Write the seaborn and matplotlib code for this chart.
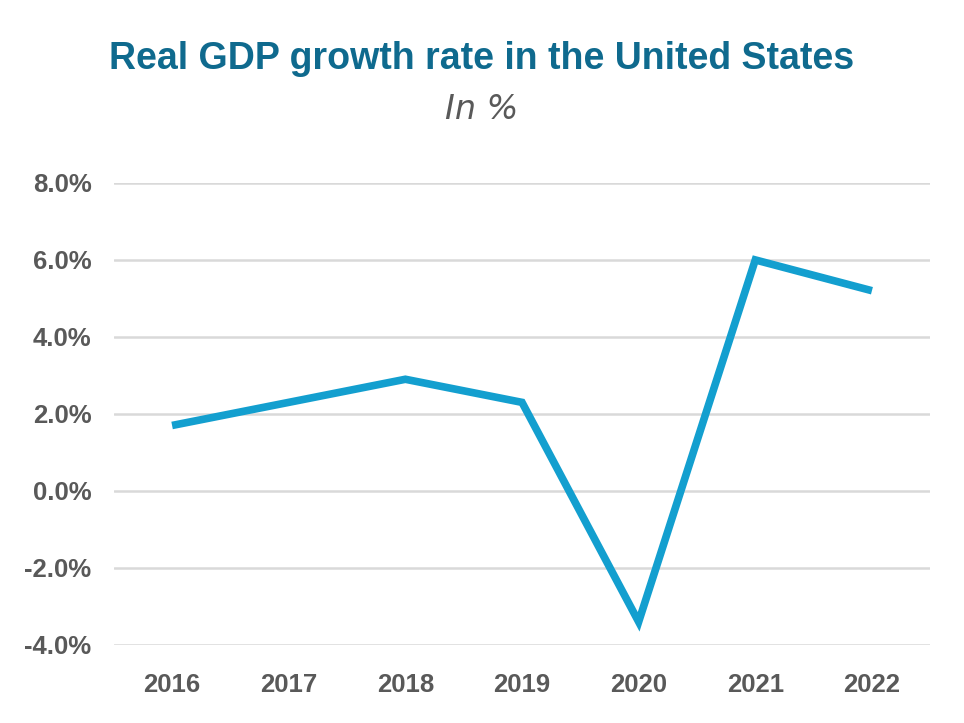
import pandas as pd
import matplotlib.pyplot as plt
import seaborn as sns
from matplotlib.ticker import FuncFormatter

# Données
annees = ["2016", "2017", "2018", "2019", "2020", "2021", "2022"]
croissance = [1.7, 2.3, 2.9, 2.3, -3.4, 6.0, 5.2]

df = pd.DataFrame({"Annee": annees, "Croissance": croissance})

sns.set_style("white")
plt.rcParams['font.family'] = ['Liberation Sans', 'DejaVu Sans']

fig = plt.figure(figsize=(9.64, 7.23), dpi=100)
ax = fig.add_axes([0.118, 0.108, 0.847, 0.639])

sns.lineplot(data=df, x="Annee", y="Croissance", color="#139fcf", linewidth=5.5,
             ax=ax, solid_capstyle="butt", solid_joinstyle="miter")

ax.set_ylim(-4, 8)
ax.set_yticks([-4, -2, 0, 2, 4, 6, 8])
ax.yaxis.set_major_formatter(FuncFormatter(lambda v, p: f"{v:.1f}%"))
ax.set_xlim(-0.5, 6.5)
ax.grid(axis="y", color="#d9d9d9", linewidth=1.8)
ax.set_axisbelow(True)
for s in ax.spines.values():
    s.set_visible(False)
ax.set_xlabel("")
ax.set_ylabel("")
ax.tick_params(axis="y", length=0, pad=16, labelsize=18.5, labelcolor="#595959")
ax.tick_params(axis="x", length=0, pad=20, labelsize=18.5, labelcolor="#595959")
for lab in ax.get_xticklabels() + ax.get_yticklabels():
    lab.set_fontweight("bold")

fig.text(0.5, 0.918, "Real GDP growth rate in the United States", ha="center", va="center",
         fontsize=27, fontweight="bold", color="#0f6a8e")
fig.text(0.5, 0.848, "In %", ha="center", va="center", fontsize=24, style="italic",
         color="#595959", family=["DejaVu Sans"])

plt.savefig("out.png", dpi=100)
